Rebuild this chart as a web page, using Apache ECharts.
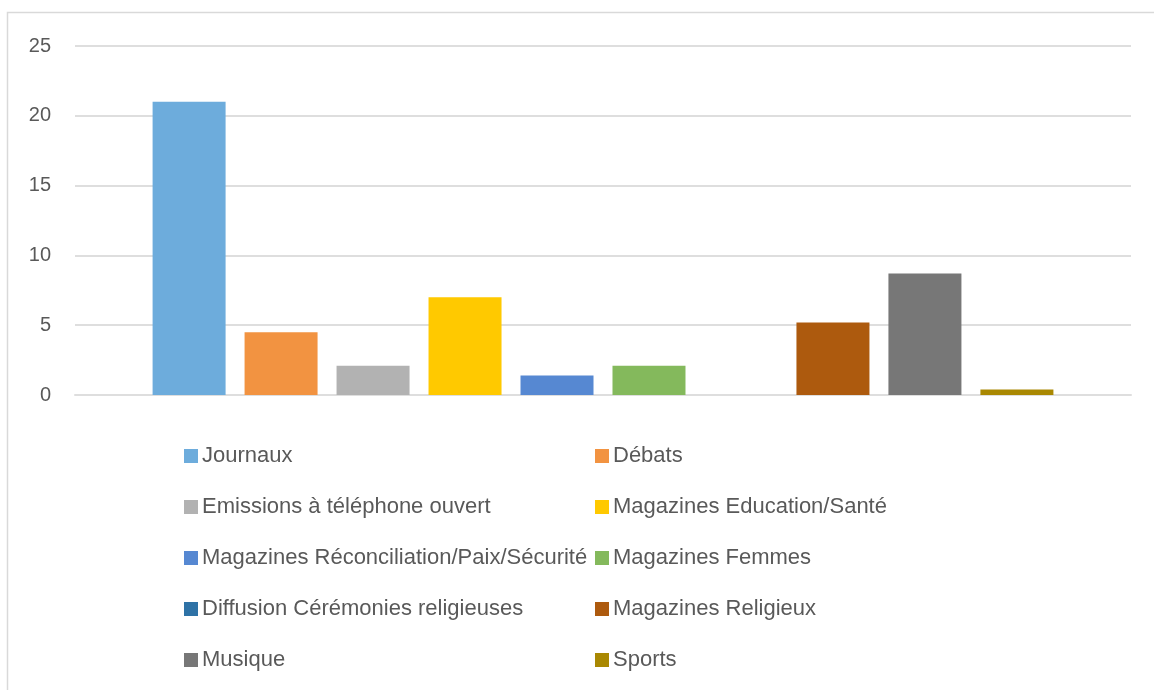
<!DOCTYPE html>
<html>
<head>
<meta charset="utf-8">
<script src="https://cdn.jsdelivr.net/npm/echarts@6/dist/echarts.min.js"></script>
<style>
  html, body { margin: 0; padding: 0; background: #ffffff; }
  #chart { width: 1154px; height: 690px; }
</style>
</head>
<body>
<div id="chart"></div>
<script>
// Programme types, one bar each, drawn in the same slot order as the legend
const seriesNames = [
  'Journaux',
  'Débats',
  'Emissions à téléphone ouvert',
  'Magazines Education/Santé',
  'Magazines Réconciliation/Paix/Sécurité',
  'Magazines Femmes',
  'Diffusion Cérémonies religieuses',
  'Magazines Religieux',
  'Musique',
  'Sports'
];
const seriesValues = [21, 4.5, 2.1, 7, 1.4, 2.1, 0, 5.2, 8.7, 0.4];
const seriesColors = [
  '#6dacdc', '#f29341', '#b2b2b2', '#ffc900', '#5688d2',
  '#84b95c', '#2e72a6', '#ad5a0e', '#777777', '#a98802'
];
const yTicks = [0, 5, 10, 15, 20, 25];

const textColor = '#595959';
const font = 'Liberation Sans, Arial, sans-serif';

const chart = echarts.init(document.getElementById('chart'), null, { renderer: 'canvas' });

const series = seriesNames.map((name, i) => ({
  name: name,
  type: 'bar',
  data: [seriesValues[i]],
  barWidth: 73,
  barGap: '26%',
  itemStyle: { color: seriesColors[i] },
  emphasis: { disabled: true }
}));

// Legend laid out as two columns: even indices left, odd indices right
const legendCommon = {
  orient: 'vertical',
  top: 445,
  height: 240,
  padding: 0,
  itemWidth: 14,
  itemHeight: 14,
  itemGap: 29,
  icon: 'rect',
  selectedMode: true,
  textStyle: { color: textColor, fontSize: 22, fontFamily: font, padding: [0, 0, 0, -1] }
};

chart.setOption({
  animation: false,
  backgroundColor: '#ffffff',
  graphic: [{
    type: 'rect',
    left: 5,
    top: 10,
    shape: { width: 1200, height: 700 },
    style: { fill: 'none', stroke: '#d9d9d9', lineWidth: 1.5 },
    silent: true,
    z: -1
  }],
  grid: { left: 75, right: 23, top: 46, bottom: 295, containLabel: false },
  legend: [
    Object.assign({}, legendCommon, { left: 184, data: seriesNames.filter((_, i) => i % 2 === 0) }),
    Object.assign({}, legendCommon, { left: 595, data: seriesNames.filter((_, i) => i % 2 === 1) })
  ],
  xAxis: {
    type: 'category',
    data: [''],
    axisLine: { show: true, lineStyle: { color: '#dedede', width: 2 } },
    axisTick: { show: false },
    axisLabel: { show: false }
  },
  yAxis: {
    type: 'value',
    min: yTicks[0],
    max: yTicks[yTicks.length - 1],
    interval: 5,
    axisLine: { show: false },
    axisTick: { show: false },
    axisLabel: { color: textColor, fontSize: 20, fontFamily: font, margin: 24 },
    splitLine: { lineStyle: { color: '#dedede', width: 2 } }
  },
  series: series
});
</script>
</body>
</html>
